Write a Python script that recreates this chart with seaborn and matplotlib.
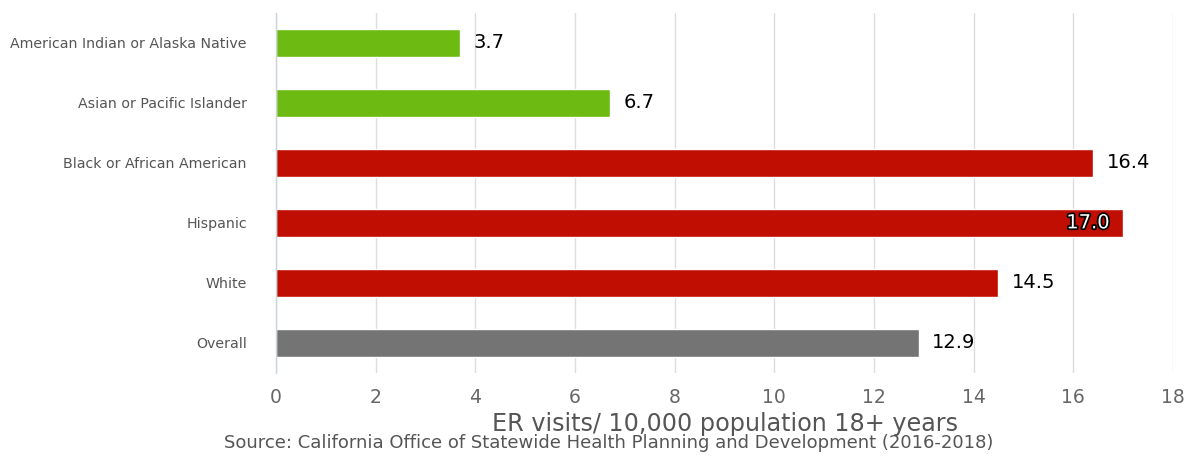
import matplotlib
matplotlib.use("Agg")
import matplotlib.pyplot as plt
import matplotlib.patheffects as pe
import seaborn as sns
import pandas as pd

categories = ["American Indian or Alaska Native", "Asian or Pacific Islander",
              "Black or African American", "Hispanic", "White", "Overall"]
values = [3.7, 6.7, 16.4, 17.0, 14.5, 12.9]
groups = ["low", "low", "high", "high", "high", "overall"]
group_colors = {"low": "#6cba12", "high": "#c10e02", "overall": "#747474"}
x_ticks = [0, 2, 4, 6, 8, 10, 12, 14, 16, 18]
x_label = "ER visits/ 10,000 population 18+ years"
source = "Source: California Office of Statewide Health Planning and Development (2016-2018)"

df = pd.DataFrame({"category": categories, "value": values, "group": groups})

sns.set_theme(style="white")
plt.rcParams["font.family"] = ["DejaVu Sans"]

fig = plt.figure(figsize=(11.98, 4.57), dpi=100)
ax = fig.add_axes([0.2304, 0.184, 0.979 - 0.2304, 0.972 - 0.184])

sns.barplot(data=df, x="value", y="category", hue="group", palette=group_colors,
            dodge=False, width=0.47, legend=False, ax=ax, saturation=1)

ax.set_xlim(0, 18)
ax.set_ylim(5.5, -0.5)
ax.set_xticks(x_ticks)
ax.set_xticklabels([str(t) for t in x_ticks], fontsize=13.5, color="#666666")
ax.tick_params(axis="x", length=0, pad=11)
ax.tick_params(axis="y", length=0, pad=21, labelsize=10.2, labelcolor="#555555")
ax.grid(axis="x", color="#dddddd", linewidth=1)
ax.set_axisbelow(True)
for s in ["top", "right", "bottom"]:
    ax.spines[s].set_visible(False)
ax.spines["left"].set_color("#c8d4dc")
ax.spines["left"].set_linewidth(1)
ax.set_ylabel("")
ax.set_xlabel("")

for i, v in enumerate(values):
    if v >= 17:
        ax.text(v - 0.27, i, f"{v:.1f}", ha="right", va="center", fontsize=14,
                color="white",
                path_effects=[pe.withStroke(linewidth=2.5, foreground="black")])
    else:
        ax.text(v + 0.27, i, f"{v:.1f}", ha="left", va="center", fontsize=14,
                color="black")

fig.text(0.605, 0.072, x_label, ha="center", va="center", fontsize=17.2, color="#555555")
fig.text(0.508, 0.030, source, ha="center", va="center", fontsize=13, color="#555555")

fig.savefig("out.png", dpi=100)
